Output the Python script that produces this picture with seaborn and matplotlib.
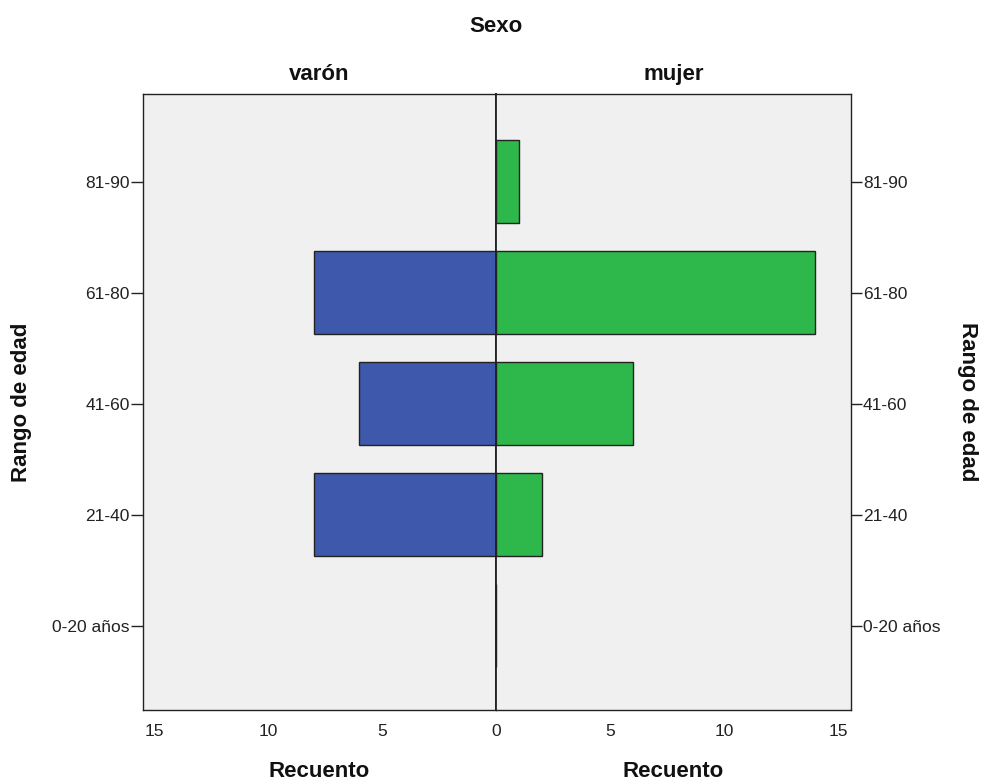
import pandas as pd
import matplotlib
matplotlib.use("Agg")
import matplotlib.pyplot as plt
import seaborn as sns

# Age ranges (top to bottom) and counts per sex
age_groups = ["81-90", "61-80", "41-60", "21-40", "0-20 años"]
varon_counts = [0, 8, 6, 8, 0]
mujer_counts = [1, 14, 6, 2, 0]
x_ticks = [0, 5, 10, 15]

sns.set_theme(style="white")
plt.rcParams["font.family"] = ["Liberation Sans", "DejaVu Sans"]

varon_df = pd.DataFrame({"edad": age_groups, "recuento": varon_counts})
mujer_df = pd.DataFrame({"edad": age_groups, "recuento": mujer_counts})

fig = plt.figure(figsize=(9.83, 7.8), dpi=100)
left, right = 143 / 983, 851 / 983
bottom, top = 1 - 710 / 780, 1 - 94 / 780
mid = 496 / 983
ax_l = fig.add_axes([left, bottom, mid - left, top - bottom])
ax_r = fig.add_axes([mid, bottom, right - mid, top - bottom])

sns.barplot(data=varon_df, y="edad", x="recuento", order=age_groups, orient="h",
            color="#3e58ac", saturation=1, edgecolor="#222222", linewidth=1,
            width=0.75, ax=ax_l)
sns.barplot(data=mujer_df, y="edad", x="recuento", order=age_groups, orient="h",
            color="#2eb84b", saturation=1, edgecolor="#222222", linewidth=1,
            width=0.75, ax=ax_r)

title_kw = dict(fontsize=16, fontweight="bold", color="#111111")

for ax in (ax_l, ax_r):
    ax.set_facecolor("#f0f0f0")
    ax.set_ylim(4.76, -0.79)
    ax.set_yticks(range(len(age_groups)))
    ax.set_yticklabels(age_groups)
    ax.set_xlabel("Recuento", va="baseline", **title_kw)
    ax.xaxis.set_label_coords(0.5, -0.108)
    for s in ax.spines.values():
        s.set_color("#222222")
        s.set_linewidth(1)
    ax.tick_params(axis="both", which="both", length=7, width=1, color="#222222",
                   labelsize=12.5, labelcolor="#222222", pad=0.5)
    ax.tick_params(axis="x", pad=3)

# left half runs right-to-left, hide its duplicate 0
ax_l.set_xlim(15.48, 0)
ax_l.set_xticks(x_ticks[1:])
ax_l.set_xticklabels([str(t) for t in x_ticks[1:]])
ax_r.set_xlim(0, 15.57)
ax_r.set_xticks(x_ticks)
ax_r.set_xticklabels([str(t) for t in x_ticks])

ax_l.tick_params(axis="y", left=True, right=False, length=9)
ax_l.set_ylabel("Rango de edad", ha="center", va="center", **title_kw)
ax_l.yaxis.set_label_coords(-0.343, 0.5)

ax_r.yaxis.tick_right()
ax_r.yaxis.set_label_position("right")
ax_r.tick_params(axis="y", right=True, left=False, length=8)
ax_r.set_ylabel("Rango de edad", rotation=-90, ha="center", va="center", **title_kw)
ax_r.yaxis.set_label_coords(1.327, 0.5)
ax_r.spines["left"].set_linewidth(1.3)
ax_l.spines["right"].set_linewidth(1.3)

ax_l.set_title("varón", pad=10, **title_kw)
ax_r.set_title("mujer", pad=10, **title_kw)
fig.text(mid, 1 - 27 / 780, "Sexo", ha="center", va="center", **title_kw)

fig.savefig("out.png", dpi=100, facecolor="white")
plt.close(fig)
